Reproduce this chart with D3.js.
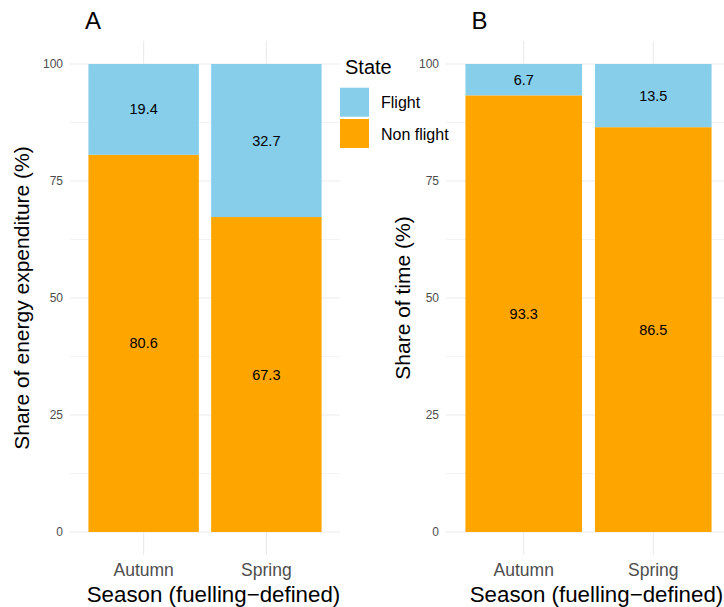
<!DOCTYPE html>
<html>
<head>
<meta charset="utf-8">
<script src="https://cdn.jsdelivr.net/npm/d3@7"></script>
<style>
  html, body { margin: 0; padding: 0; background: #ffffff; }
  svg { display: block; font-family: "Liberation Sans", Arial, Helvetica, sans-serif; }
</style>
</head>
<body>
<svg id="chart" width="724" height="607"></svg>
<script>
// Seasons on the x axis
const seasons = ["Autumn", "Spring"];
// Panel A: share of energy expenditure (%)
const energyFlight = [19.4, 32.7];
const energyNonFlight = [80.6, 67.3];
// Panel B: share of time (%)
const timeFlight = [6.7, 13.5];
const timeNonFlight = [93.3, 86.5];
// Stack order and fill for each state
const states = ["Flight", "Non flight"];
const stateColors = ["#87CEEB", "#FFA500"];
const yTicks = [0, 25, 50, 75, 100];
const yMinorTicks = [12.5, 37.5, 62.5, 87.5];

const svg = d3.select("#chart");
const colour = d3.scaleOrdinal().domain(states).range(stateColors);

function drawPanel(opts) {
  const { left, right, top, bottom, flight, nonFlight, yTitle, tag, tagX, xTitleX, yTitleX } = opts;
  const g = svg.append("g");

  const x = d3.scaleBand().domain(seasons).range([left, right])
    .paddingInner(0.1).paddingOuter(0.15);
  const y = d3.scaleLinear().domain([-5, 105]).range([bottom, top]);

  const clipId = "clip-" + tag;
  svg.append("clipPath").attr("id", clipId)
    .append("rect").attr("x", left).attr("y", top).attr("width", right - left).attr("height", bottom - top);

  const grid = g.append("g").attr("clip-path", `url(#${clipId})`);
  // minor horizontal grid
  grid.selectAll("line.minor").data(yMinorTicks).join("line")
    .attr("x1", left).attr("x2", right)
    .attr("y1", d => y(d)).attr("y2", d => y(d))
    .attr("stroke", "#EBEBEB").attr("stroke-width", 0.6);
  // major horizontal grid
  grid.selectAll("line.major").data(yTicks).join("line")
    .attr("x1", left).attr("x2", right)
    .attr("y1", d => y(d)).attr("y2", d => y(d))
    .attr("stroke", "#EBEBEB").attr("stroke-width", 1.1);
  // vertical grid at category centres
  grid.selectAll("line.vert").data(seasons).join("line")
    .attr("x1", d => x(d) + x.bandwidth() / 2).attr("x2", d => x(d) + x.bandwidth() / 2)
    .attr("y1", top).attr("y2", bottom)
    .attr("stroke", "#EBEBEB").attr("stroke-width", 1.1);

  // stacked bars: non flight at the bottom, flight on top
  const rows = seasons.map((s, i) => ({ season: s, "Flight": flight[i], "Non flight": nonFlight[i] }));
  const stack = d3.stack().keys(["Non flight", "Flight"]);
  const series = stack(rows);

  const bars = g.append("g");
  series.forEach(layer => {
    bars.selectAll(null).data(layer).join("rect")
      .attr("x", d => x(d.data.season))
      .attr("width", x.bandwidth())
      .attr("y", d => y(d[1]))
      .attr("height", d => y(d[0]) - y(d[1]))
      .attr("fill", colour(layer.key));
    bars.selectAll(null).data(layer).join("text")
      .attr("x", d => x(d.data.season) + x.bandwidth() / 2)
      .attr("y", d => y((d[0] + d[1]) / 2))
      .attr("dy", "0.35em")
      .attr("text-anchor", "middle")
      .attr("font-size", 14.5)
      .attr("fill", "#000")
      .text(d => d.data[layer.key].toFixed(1));
  });

  // y axis tick labels
  const yAxis = d3.axisLeft(y).tickValues(yTicks).tickSize(0).tickPadding(7);
  const ya = g.append("g").attr("transform", `translate(${left},0)`).call(yAxis);
  ya.select(".domain").remove();
  ya.selectAll("text").attr("font-size", 12).attr("fill", "#4D4D4D")
    .attr("font-family", "'Liberation Sans', Arial, sans-serif");

  // x axis tick labels
  const xAxis = d3.axisBottom(x).tickSize(0).tickPadding(8);
  const xa = g.append("g").attr("transform", `translate(0,${bottom})`).call(xAxis);
  xa.select(".domain").remove();
  xa.selectAll("text").attr("font-size", 17.5).attr("fill", "#4D4D4D")
    .attr("font-family", "'Liberation Sans', Arial, sans-serif");

  // axis titles
  g.append("text")
    .attr("x", xTitleX).attr("y", 601.5)
    .attr("text-anchor", "middle").attr("font-size", 22.3).attr("fill", "#000")
    .text("Season (fuelling\u2212defined)");
  g.append("text")
    .attr("transform", `translate(${yTitleX},${(top + bottom) / 2}) rotate(-90)`)
    .attr("text-anchor", "middle").attr("font-size", 21).attr("fill", "#000")
    .text(yTitle);

  // panel tag
  g.append("text")
    .attr("x", tagX).attr("y", 28.5)
    .attr("font-size", 24).attr("fill", "#000")
    .text(tag);
}

drawPanel({
  left: 70, right: 340, top: 40.6, bottom: 555.4,
  flight: energyFlight, nonFlight: energyNonFlight,
  yTitle: "Share of energy expenditure (%)", tag: "A", tagX: 85,
  xTitleX: 213.5, yTitleX: 28.5
});

drawPanel({
  left: 446, right: 731, top: 40.6, bottom: 555.4,
  flight: timeFlight, nonFlight: timeNonFlight,
  yTitle: "Share of time (%)", tag: "B", tagX: 471.5,
  xTitleX: 596.5, yTitleX: 409.5
});

// legend
const legend = svg.append("g");
legend.append("text").attr("x", 345).attr("y", 74.3)
  .attr("font-size", 20).attr("fill", "#000").text("State");
states.forEach((s, i) => {
  legend.append("rect")
    .attr("x", 340).attr("y", 87.7 + i * 31.3)
    .attr("width", 29).attr("height", 29)
    .attr("fill", colour(s));
  legend.append("text")
    .attr("x", 381).attr("y", 102 + i * 32.5).attr("dy", "0.35em")
    .attr("font-size", 16).attr("fill", "#000").text(s);
});
</script>
</body>
</html>
